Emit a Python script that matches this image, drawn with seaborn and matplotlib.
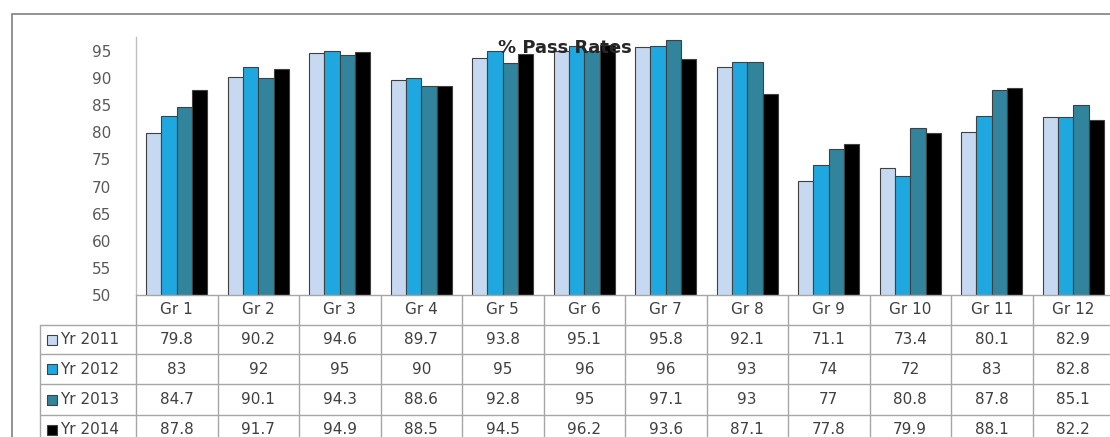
import numpy as np
import pandas as pd
from matplotlib import pyplot as plt
import matplotlib.transforms as mtransforms
from matplotlib.patches import Rectangle
from matplotlib.lines import Line2D
import seaborn as sns

grades = ["Gr 1", "Gr 2", "Gr 3", "Gr 4", "Gr 5", "Gr 6", "Gr 7", "Gr 8", "Gr 9", "Gr 10", "Gr 11", "Gr 12"]
years = ["Yr 2011", "Yr 2012", "Yr 2013", "Yr 2014"]
yr2011 = [79.8, 90.2, 94.6, 89.7, 93.8, 95.1, 95.8, 92.1, 71.1, 73.4, 80.1, 82.9]
yr2012 = [83, 92, 95, 90, 95, 96, 96, 93, 74, 72, 83, 82.8]
yr2013 = [84.7, 90.1, 94.3, 88.6, 92.8, 95, 97.1, 93, 77, 80.8, 87.8, 85.1]
yr2014 = [87.8, 91.7, 94.9, 88.5, 94.5, 96.2, 93.6, 87.1, 77.8, 79.9, 88.1, 82.2]
colors = ["#C6D9F1", "#1FA8E0", "#31849B", "#000000"]

series = [yr2011, yr2012, yr2013, yr2014]
df = pd.DataFrame({
    "grade": grades * 4,
    "year": np.repeat(years, len(grades)),
    "rate": yr2011 + yr2012 + yr2013 + yr2014,
})

sns.set_style("white")
plt.rcParams["font.family"] = ["DejaVu Sans"]
W, H = 1110, 437
fig = plt.figure(figsize=(W / 100, H / 100), dpi=100)
ax = fig.add_axes([136 / W, 1 - 295 / H, (1114 - 136) / W, (295 - 37) / H])

sns.barplot(data=df, x="grade", y="rate", hue="year", palette=colors, width=0.75,
            saturation=1, edgecolor="#404040", linewidth=0.8, ax=ax, legend=False)
ax.set_ylim(50, 97.6)
ax.set_xlim(-0.5, 11.5)
ax.set_yticks(range(50, 96, 5))
ax.tick_params(axis="y", labelsize=11, colors="#595959", length=0, pad=18)
ax.set_xticks([])
ax.set_xlabel("")
ax.set_ylabel("")
for s in ["top", "right", "bottom"]:
    ax.spines[s].set_visible(False)
ax.spines["left"].set_color("#BFBFBF")
ax.spines["left"].set_linewidth(1)

fig.text(565 / W, 1 - 48 / H, "% Pass Rates", ha="center", va="center",
         fontsize=13, fontweight="bold", color="#262626")

# data table under the chart
def fy(py):
    return 1 - py / H

tr = mtransforms.blended_transform_factory(ax.transData, fig.transFigure)
gc = "#A6A6A6"
rows = [295, 325, 354, 384, 415, 445]
for i in range(len(grades) + 1):
    fig.add_artist(Line2D([i - 0.5, i - 0.5], [fy(295), 0], transform=tr, color=gc, lw=1))
fig.add_artist(Line2D([40 / W, 40 / W], [fy(325), 0], transform=fig.transFigure, color=gc, lw=1))
fig.add_artist(Line2D([-0.5, 11.5], [fy(295), fy(295)], transform=tr, color=gc, lw=1))
for r in rows[1:5]:
    fig.add_artist(Line2D([40 / W, 1], [fy(r), fy(r)], transform=fig.transFigure, color=gc, lw=1))

for i, g in enumerate(grades):
    fig.text(i, fy(310), g, transform=tr, ha="center", va="center", fontsize=11, color="#404040")

for k, (yr, vals) in enumerate(zip(years, series)):
    yc = fy((rows[k + 1] + rows[k + 2]) / 2)
    fig.add_artist(Rectangle((47 / W, yc - 5 / H), 10 / W, 10 / H, transform=fig.transFigure,
                             facecolor=colors[k], edgecolor="#404040", lw=0.8))
    fig.text(60 / W, yc, yr, ha="left", va="center", fontsize=11, color="#404040")
    for i, v in enumerate(vals):
        fig.text(i, yc, f"{v:g}", transform=tr, ha="center", va="center", fontsize=11, color="#404040")

# outer frame
fig.add_artist(Rectangle((12 / W, -0.1), 1.2, 1 - 14 / H + 0.1, transform=fig.transFigure,
                         fill=False, edgecolor="#808080", lw=1.2))

fig.savefig("out.png", dpi=100)
